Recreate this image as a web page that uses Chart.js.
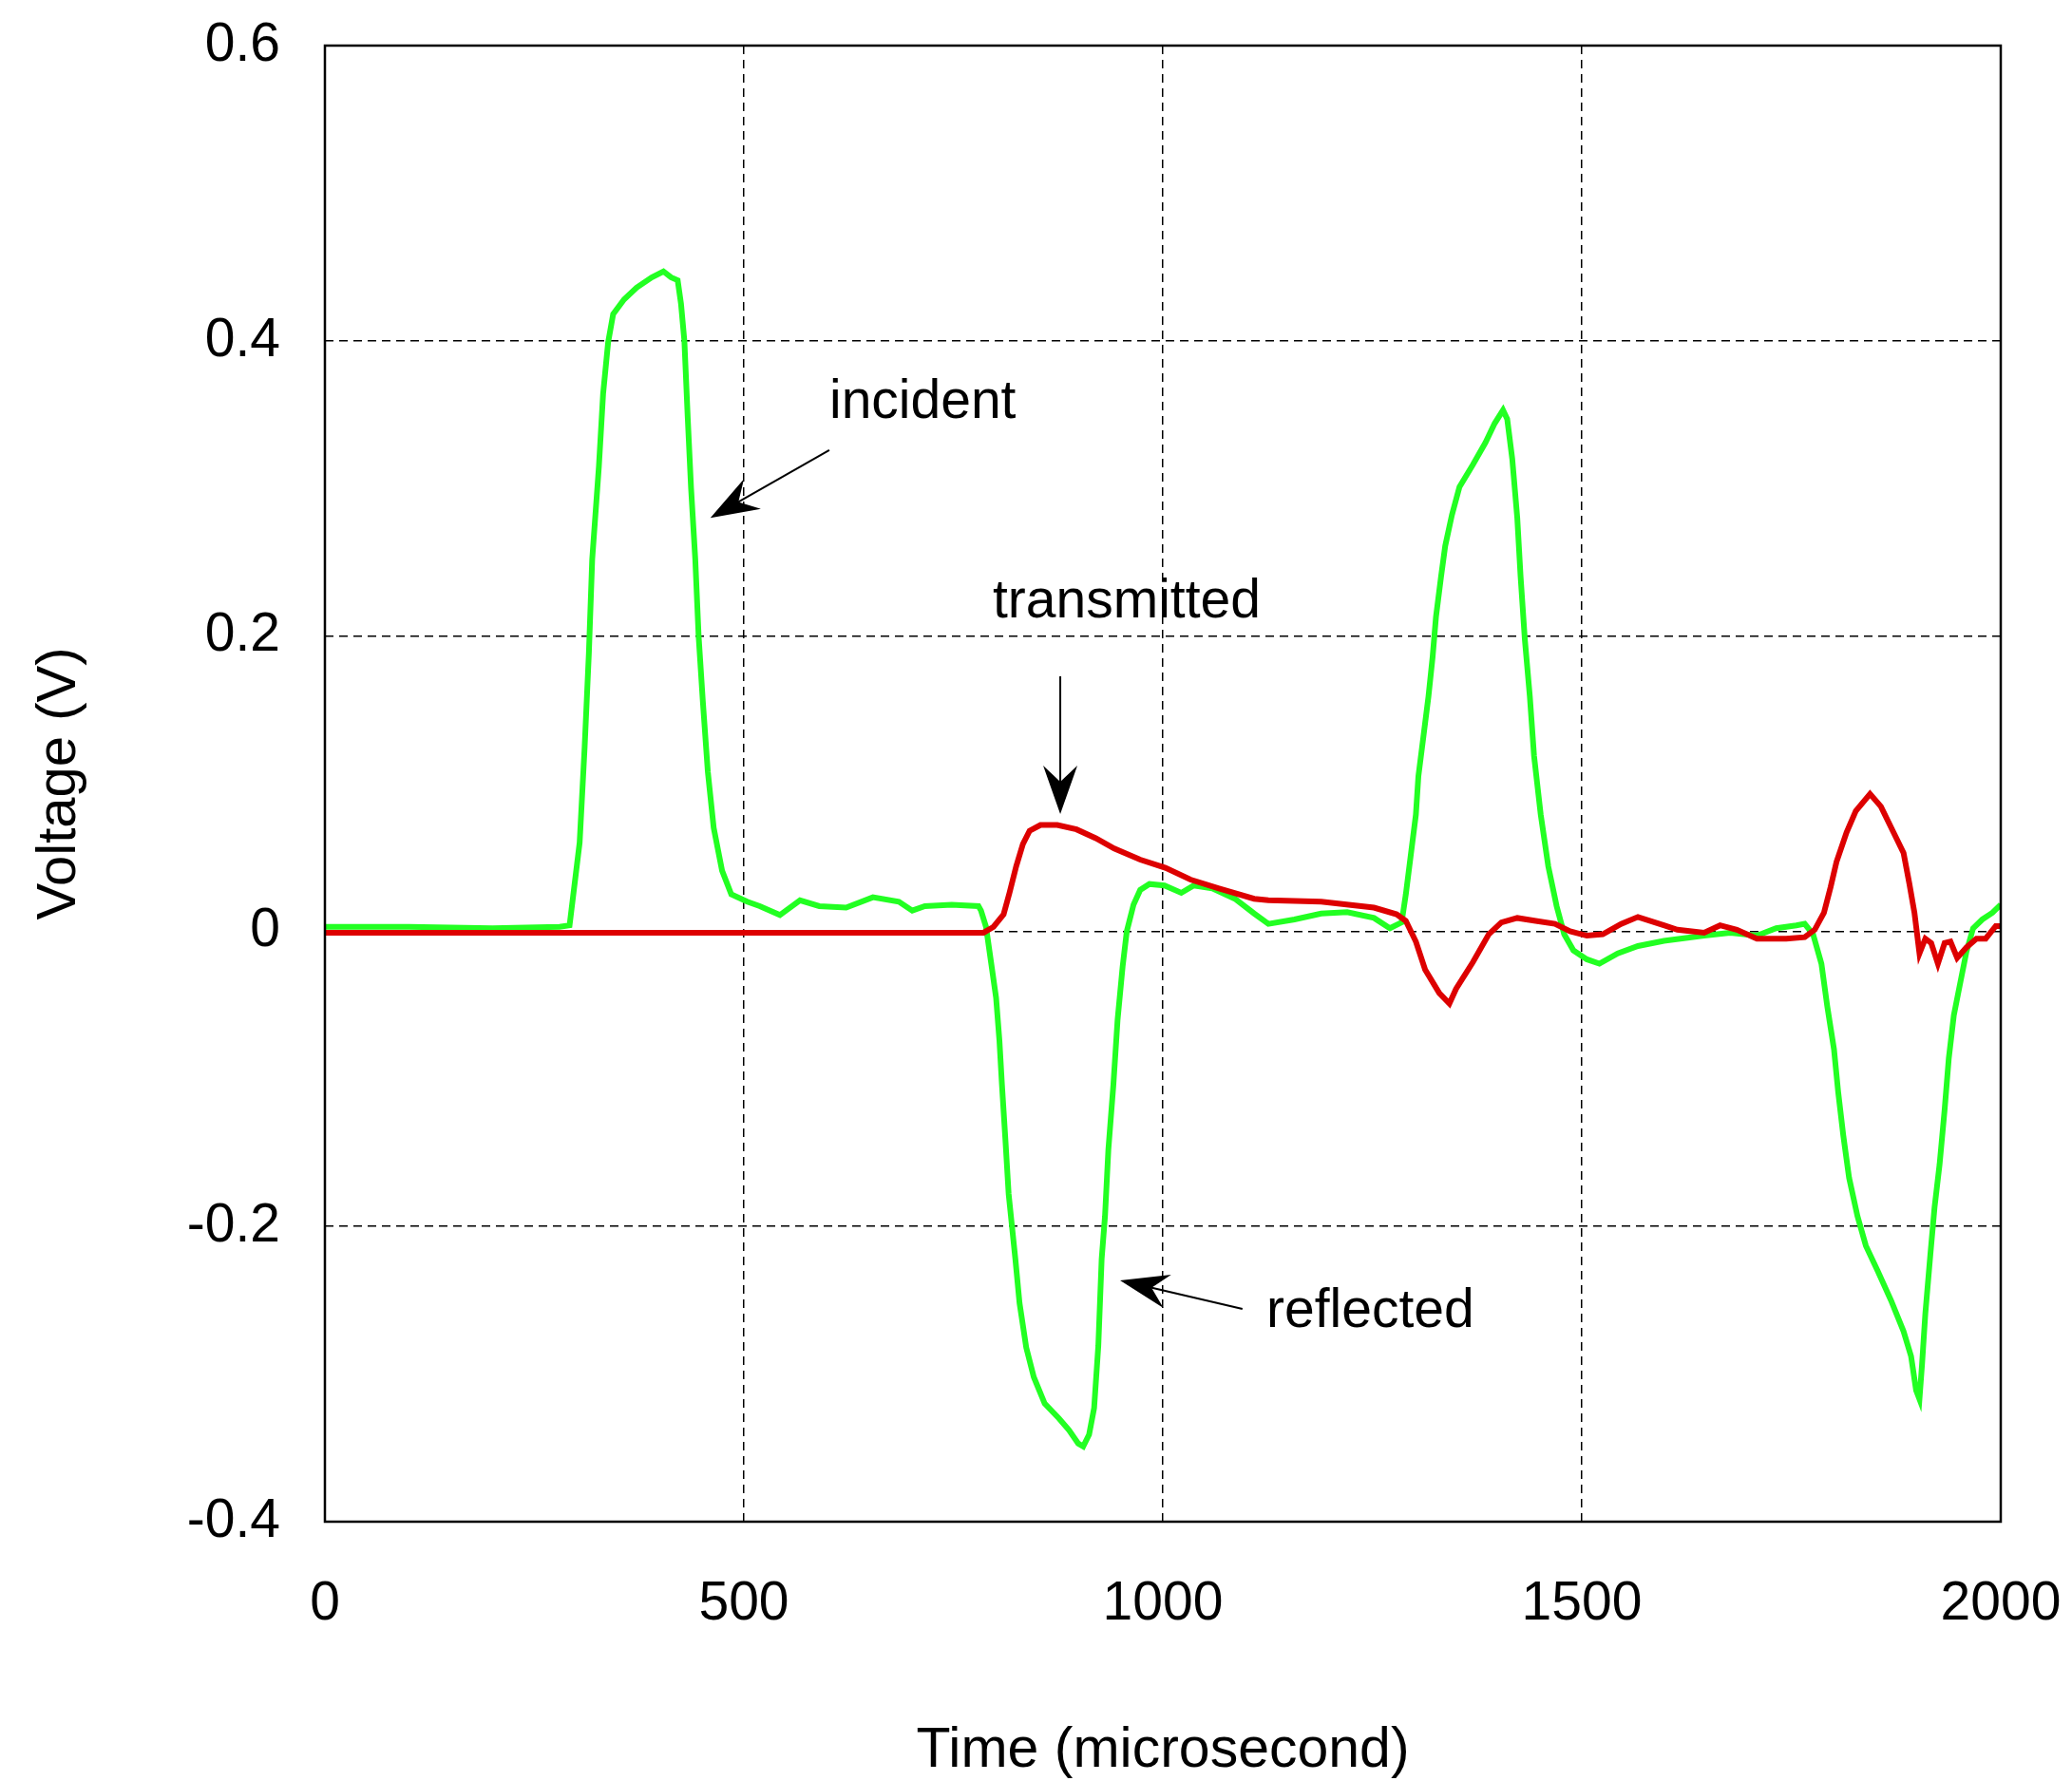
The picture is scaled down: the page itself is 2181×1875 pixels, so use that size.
<!DOCTYPE html>
<html>
<head>
<meta charset="utf-8">
<script src="https://cdn.jsdelivr.net/npm/chart.js@4"></script>
<style>
  body { margin: 0; background: #fff; }
  #wrap { width: 2181px; height: 1875px; position: relative; }
</style>
</head>
<body>
<div id="wrap"><canvas id="pulseChart"></canvas></div>
<script>
// incident + reflected signal (green gauge)
const incidentTime = [
  0, 100, 200, 280, 292, 304, 310, 315, 319, 327,
  332, 338, 344, 357, 372, 390, 404, 413, 421, 425,
  429, 433, 437, 442, 446, 451, 457, 464, 474, 485,
  504, 519, 543, 567, 590, 622, 654, 685, 701, 716,
  748, 780, 783, 789, 795, 801, 805, 808, 812, 816,
  820, 824, 829, 837, 846, 859, 876, 888, 899, 905,
  912, 918, 923, 927, 931, 935, 941, 946, 952, 957,
  965, 973, 984, 1002, 1022, 1037, 1059, 1086, 1109, 1126,
  1157, 1189, 1220, 1252, 1271, 1285, 1290, 1296, 1302, 1305,
  1311, 1317, 1322, 1326, 1332, 1337, 1345, 1354, 1370, 1385,
  1396, 1406, 1411, 1417, 1423, 1427, 1432, 1438, 1443, 1451,
  1460, 1470, 1479, 1490, 1506, 1521, 1543, 1567, 1598, 1646,
  1677, 1709, 1732, 1756, 1766, 1776, 1786, 1793, 1801, 1806,
  1812, 1819, 1829, 1839, 1853, 1869, 1884, 1893, 1899, 1903,
  1906, 1910, 1916, 1921, 1927, 1933, 1938, 1944, 1952, 1959,
  1967, 1978, 1990, 2000
];
const incidentVolt = [
  0.003, 0.003, 0.002, 0.003, 0.004, 0.06, 0.125, 0.188, 0.252, 0.315,
  0.364, 0.399, 0.418, 0.428, 0.436, 0.443, 0.447, 0.443, 0.441, 0.425,
  0.4, 0.348, 0.3, 0.252, 0.2, 0.156, 0.108, 0.07, 0.041, 0.025,
  0.02, 0.017, 0.011, 0.021, 0.017, 0.016, 0.023, 0.02, 0.014, 0.017,
  0.018, 0.017, 0.014, 0.003, -0.021, -0.045, -0.074, -0.104, -0.14, -0.178,
  -0.2, -0.222, -0.252, -0.282, -0.302, -0.32, -0.33, -0.338, -0.347, -0.349,
  -0.341, -0.323, -0.281, -0.222, -0.193, -0.148, -0.104, -0.06, -0.024, 0,
  0.018, 0.028, 0.032, 0.031, 0.026, 0.031, 0.029, 0.022, 0.012, 0.005,
  0.008, 0.012, 0.013, 0.009, 0.002, 0.006, 0.025, 0.052, 0.079, 0.105,
  0.132, 0.159, 0.186, 0.213, 0.24, 0.261, 0.282, 0.301, 0.316, 0.331,
  0.344, 0.353, 0.347, 0.32, 0.28, 0.24, 0.198, 0.159, 0.119, 0.079,
  0.044, 0.017, -0.002, -0.013, -0.019, -0.022, -0.015, -0.01, -0.0065, -0.003,
  -0.001, -0.003, 0.002, 0.004, 0.005, -0.002, -0.022, -0.051, -0.08, -0.109,
  -0.138, -0.167, -0.193, -0.213, -0.23, -0.25, -0.271, -0.288, -0.311, -0.317,
  -0.294, -0.259, -0.219, -0.187, -0.158, -0.121, -0.086, -0.057, -0.034, -0.014,
  0.002, 0.008, 0.0125, 0.018
];

// transmitted signal (red gauge)
const transmittedTime = [
  0, 200, 400, 600, 786, 798, 810, 817, 825, 833,
  841, 854, 874, 897, 920, 942, 973, 1003, 1033, 1067,
  1109, 1126, 1189, 1252, 1279, 1290, 1302, 1313, 1330, 1342,
  1350, 1370, 1389, 1404, 1423, 1445, 1468, 1486, 1506, 1525,
  1547, 1567, 1598, 1614, 1646, 1665, 1685, 1709, 1744, 1766,
  1778, 1789, 1797, 1804, 1816, 1827, 1844, 1857, 1872, 1884,
  1891, 1897, 1903, 1910, 1917, 1925, 1933, 1940, 1948, 1959,
  1971, 1982, 1994, 2000
];
const transmittedVolt = [
  -0.001, -0.001, -0.001, -0.001, -0.001, 0.003, 0.0115, 0.026, 0.044, 0.059,
  0.068, 0.072, 0.072, 0.069, 0.063, 0.056, 0.0485, 0.043, 0.035, 0.029,
  0.022, 0.021, 0.02, 0.016, 0.0115, 0.007, -0.007, -0.026, -0.042, -0.049,
  -0.039, -0.021, -0.002, 0.006, 0.009, 0.007, 0.005, 0, -0.003, -0.002,
  0.005, 0.0097, 0.004, 0.001, -0.001, 0.004, 0.001, -0.005, -0.005, -0.004,
  0.001, 0.0125, 0.03, 0.047, 0.067, 0.0815, 0.093, 0.0845, 0.067, 0.053,
  0.032, 0.0125, -0.015, -0.005, -0.008, -0.022, -0.008, -0.007, -0.018, -0.011,
  -0.005, -0.005, 0.0035, 0.0035
];

const xTicks = [0, 500, 1000, 1500, 2000];
const yTicks = [-0.4, -0.2, 0, 0.2, 0.4, 0.6];

const FONT = 'Liberation Sans, Arial, Helvetica, sans-serif';

// labelled arrows, in data units
const notes = [
  { text: 'incident',    tx: 602,  ty: 0.3477,  from: [602, 0.326],   to: [460, 0.280] },
  { text: 'transmitted', tx: 797,  ty: 0.2126,  from: [877.6, 0.1727], to: [877.6, 0.0794] },
  { text: 'reflected',   tx: 1123.6, ty: -0.268, from: [1095, -0.2558], to: [949, -0.2365] }
];

function toPoints(ts, vs) {
  return ts.map((t, i) => ({ x: t, y: vs[i] }));
}

const framePlugin = {
  id: 'frameAndNotes',
  afterDatasetsDraw(chart) {
    const { ctx, chartArea: a, scales: { x, y } } = chart;
    ctx.save();
    ctx.strokeStyle = '#000';
    ctx.lineWidth = 2.5;
    ctx.strokeRect(a.left, a.top, a.right - a.left, a.bottom - a.top);

    ctx.fillStyle = '#000';
    ctx.font = '57px ' + FONT;
    ctx.textBaseline = 'alphabetic';
    ctx.textAlign = 'left';
    notes.forEach(n => {
      ctx.fillText(n.text, x.getPixelForValue(n.tx), y.getPixelForValue(n.ty));
      const x0 = x.getPixelForValue(n.from[0]), y0 = y.getPixelForValue(n.from[1]);
      const x1 = x.getPixelForValue(n.to[0]), y1 = y.getPixelForValue(n.to[1]);
      const len = Math.hypot(x1 - x0, y1 - y0);
      const ux = (x1 - x0) / len, uy = (y1 - y0) / len;
      const px = -uy, py = ux;
      ctx.lineWidth = 2;
      ctx.beginPath();
      ctx.moveTo(x0, y0);
      ctx.lineTo(x1 - ux * 30, y1 - uy * 30);
      ctx.stroke();
      // barbed head
      const hl = 51, hw = 18, notch = 34;
      ctx.beginPath();
      ctx.moveTo(x1, y1);
      ctx.lineTo(x1 - ux * hl + px * hw, y1 - uy * hl + py * hw);
      ctx.lineTo(x1 - ux * notch, y1 - uy * notch);
      ctx.lineTo(x1 - ux * hl - px * hw, y1 - uy * hl - py * hw);
      ctx.closePath();
      ctx.fill();
    });
    ctx.restore();
  }
};

new Chart(document.getElementById('pulseChart'), {
  type: 'line',
  data: {
    datasets: [
      {
        label: 'transmitted',
        data: toPoints(transmittedTime, transmittedVolt),
        borderColor: '#dd0000',
        borderWidth: 6,
        pointRadius: 0,
        tension: 0
      },
      {
        label: 'incident / reflected',
        data: toPoints(incidentTime, incidentVolt),
        borderColor: '#22ff22',
        borderWidth: 6,
        pointRadius: 0,
        tension: 0
      }
    ]
  },
  options: {
    responsive: true,
    maintainAspectRatio: false,
    animation: false,
    layout: { padding: { top: 48, right: 75, bottom: 0, left: 0 } },
    plugins: {
      legend: { display: false },
      tooltip: { enabled: false }
    },
    scales: {
      x: {
        type: 'linear',
        min: 0,
        max: 2000,
        afterBuildTicks: s => { s.ticks = xTicks.map(v => ({ value: v })); },
        afterFit: s => { s.height = 273; s.paddingLeft = 0; s.paddingRight = 0; },
        border: { display: false, dash: [9, 6] },
        grid: { color: '#000', lineWidth: 1.5, drawTicks: false },
        ticks: {
          color: '#000',
          padding: 53,
          font: { family: FONT, size: 57 },
          callback: v => String(v)
        },
        title: {
          display: true,
          text: 'Time (microsecond)',
          color: '#000',
          padding: { top: 0, bottom: 2 },
          font: { family: FONT, size: 59, lineHeight: 1 }
        }
      },
      y: {
        min: -0.4,
        max: 0.6,
        afterBuildTicks: s => { s.ticks = yTicks.map(v => ({ value: v })); },
        afterFit: s => { s.width = 342; s.paddingTop = 0; s.paddingBottom = 0; },
        border: { display: false, dash: [9, 6] },
        grid: { color: '#000', lineWidth: 1.5, drawTicks: false },
        ticks: {
          color: '#000',
          padding: 47,
          font: { family: FONT, size: 57 },
          callback: v => Math.abs(v) < 1e-9 ? '0' : v.toFixed(1)
        },
        title: {
          display: true,
          text: 'Voltage (V)',
          color: '#000',
          padding: { top: 34, bottom: 0 },
          font: { family: FONT, size: 58, lineHeight: 1 }
        }
      }
    }
  },
  plugins: [framePlugin]
});
</script>
</body>
</html>
